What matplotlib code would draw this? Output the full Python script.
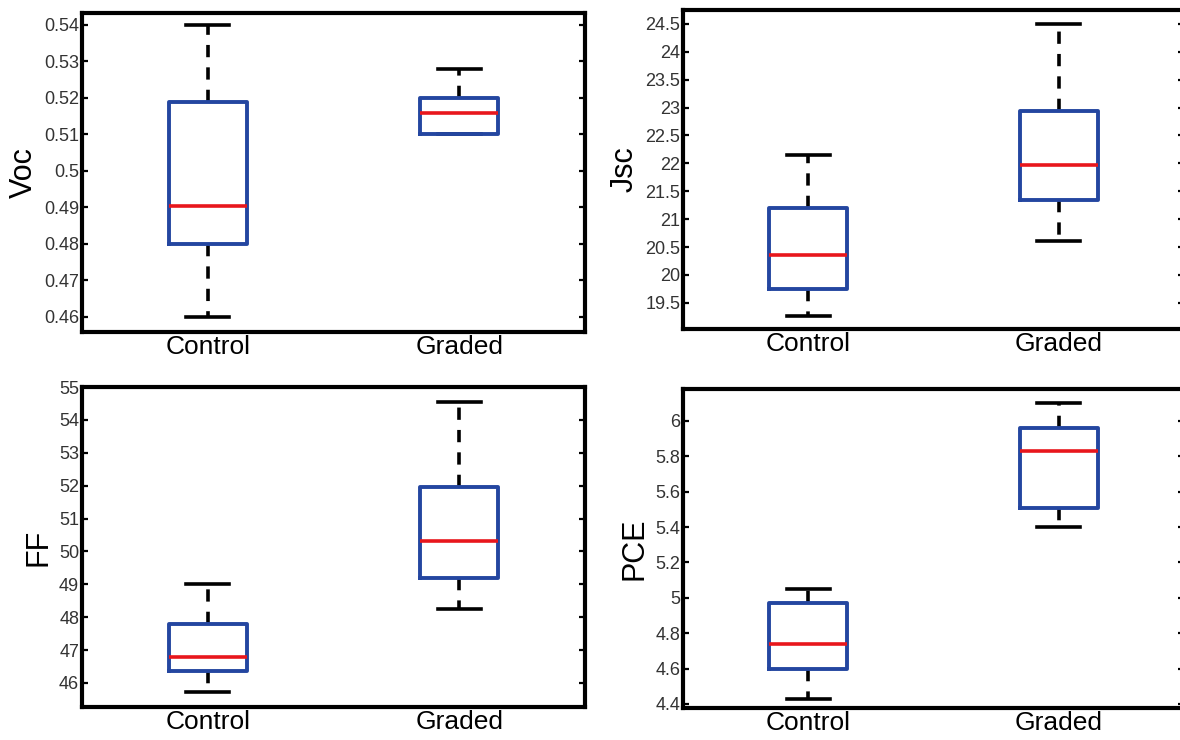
import matplotlib
matplotlib.use("Agg")
from matplotlib import pyplot as plt

plt.rcParams['font.family'] = ['Liberation Sans', 'DejaVu Sans']

groups = ['Control', 'Graded']

# whisker low, q1, median, q3, whisker high for each group
voc_stats = [[0.460, 0.480, 0.4905, 0.519, 0.540],
             [0.510, 0.510, 0.5158, 0.520, 0.528]]
jsc_stats = [[19.27, 19.75, 20.35, 21.20, 22.15],
             [20.60, 21.35, 21.97, 22.93, 24.50]]
ff_stats = [[45.72, 46.35, 46.78, 47.80, 49.00],
            [48.25, 49.20, 50.32, 51.95, 54.55]]
pce_stats = [[4.43, 4.60, 4.74, 4.97, 5.05],
             [5.40, 5.51, 5.83, 5.96, 6.10]]

voc_ticks = [0.46, 0.47, 0.48, 0.49, 0.50, 0.51, 0.52, 0.53, 0.54]
voc_labels = ['0.46', '0.47', '0.48', '0.49', '0.5', '0.51', '0.52', '0.53', '0.54']
jsc_ticks = [19.5, 20, 20.5, 21, 21.5, 22, 22.5, 23, 23.5, 24, 24.5]
jsc_labels = ['19.5', '20', '20.5', '21', '21.5', '22', '22.5', '23', '23.5', '24', '24.5']
ff_ticks = [46, 47, 48, 49, 50, 51, 52, 53, 54, 55]
ff_labels = ['46', '47', '48', '49', '50', '51', '52', '53', '54', '55']
pce_ticks = [4.4, 4.6, 4.8, 5.0, 5.2, 5.4, 5.6, 5.8, 6.0]
pce_labels = ['4.4', '4.6', '4.8', '5', '5.2', '5.4', '5.6', '5.8', '6']

panels = [
    ('Voc', voc_stats, voc_ticks, voc_labels, (0.4559, 0.5433), [0.0695, 0.5514, 0.4263, 0.4311]),
    ('Jsc', jsc_stats, jsc_ticks, jsc_labels, (19.03, 24.75), [0.5788, 0.5554, 0.4246, 0.4311]),
    ('FF', ff_stats, ff_ticks, ff_labels, (45.27, 55.0), [0.0695, 0.0446, 0.4263, 0.4324]),
    ('PCE', pce_stats, pce_ticks, pce_labels, (4.377, 6.18), [0.5788, 0.0432, 0.4246, 0.4311]),
]

box_blue = '#2446a0'
med_red = '#e8161c'

fig = plt.figure(figsize=(11.8, 7.4), dpi=100)

for name, stats, ticks, labels, ylim, rect in panels:
    ax = fig.add_axes(rect)
    bxp_stats = []
    for g, s in zip(groups, stats):
        bxp_stats.append({'label': g, 'whislo': s[0], 'q1': s[1], 'med': s[2],
                          'q3': s[3], 'whishi': s[4], 'fliers': []})
    ax.bxp(bxp_stats, positions=[1, 2], widths=0.31, showfliers=False,
           boxprops=dict(color=box_blue, linewidth=2.8, zorder=4),
           medianprops=dict(color=med_red, linewidth=2.6, solid_capstyle='butt', zorder=5),
           whiskerprops=dict(color='black', linewidth=2.6, linestyle=(0, (3.4, 2.8))),
           capprops=dict(color='black', linewidth=2.6),
           capwidths=0.17)
    ax.set_xlim(0.5, 2.5)
    ax.set_ylim(*ylim)
    ax.set_yticks(ticks)
    ax.set_yticklabels(labels)
    ax.set_ylabel(name, fontsize=22, labelpad=4)
    ax.set_xticks([1, 2])
    ax.set_xticklabels(groups, fontsize=19)
    ax.tick_params(axis='y', direction='in', length=4, width=1.6, right=True,
                   labelsize=13, labelcolor='#333333', pad=2)
    ax.tick_params(axis='x', length=0, pad=2)
    for sp in ax.spines.values():
        sp.set_linewidth(3.0)
        sp.set_color('black')

fig.savefig('out.png', dpi=100)
